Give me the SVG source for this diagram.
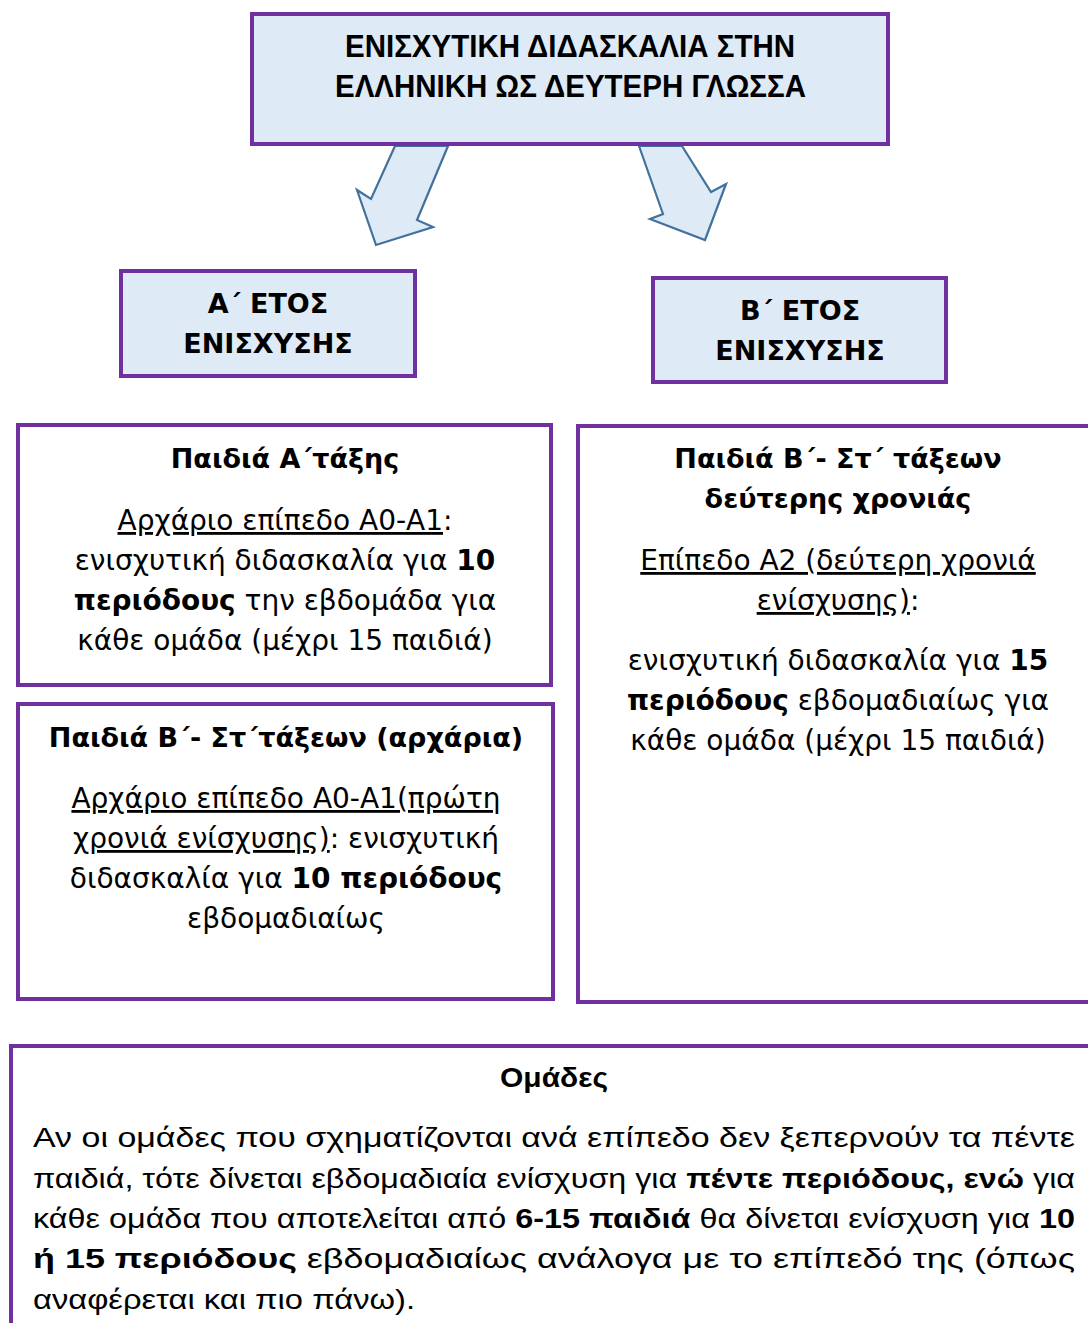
<svg xmlns="http://www.w3.org/2000/svg" width="1088" height="1323" viewBox="0 0 1088 1323">
<style>
.box{fill:#ffffff;stroke:#7030A0;stroke-width:4}
.bl{fill:#DEEAF6;stroke:#7030A0;stroke-width:4}
.arr{fill:#DEEAF6;stroke:#41719C;stroke-width:2.2;stroke-linejoin:miter}
.t{font-family:"DejaVu Sans",sans-serif;font-size:28px;fill:#000;text-anchor:middle}
.h{font-size:27px}
.y{font-size:27px}
.b{font-weight:bold}
.u{text-decoration:underline;text-decoration-skip-ink:none}
.ti{font-family:"Liberation Sans",Arial,sans-serif;font-weight:bold;font-size:31px;fill:#000}
.n{font-family:"Liberation Sans",Arial,sans-serif;font-size:28px;fill:#000}
</style>
<rect width="1088" height="1323" fill="#ffffff"/>
<g id="connectors">
<polygon class="arr" points="395,146 371,199 357,190 376,245 433,227 417,220 448,146"/>
<polygon class="arr" points="639,146 663,214 650,219 705,240 726,184 711,192 682,146"/>
</g>
<g id="title">
<rect class="bl" x="252" y="14" width="636" height="130"/>
<text class="ti" x="345" y="57" textLength="450" lengthAdjust="spacingAndGlyphs">ΕΝΙΣΧΥΤΙΚΗ ΔΙΔΑΣΚΑΛΙΑ ΣΤΗΝ</text>
<text class="ti" x="335" y="97" textLength="471" lengthAdjust="spacingAndGlyphs">ΕΛΛΗΝΙΚΗ ΩΣ ΔΕΥΤΕΡΗ ΓΛΩΣΣΑ</text>
</g>
<g id="year-a">
<rect class="bl" x="121" y="271" width="294" height="105"/>
<text class="t b y" x="268" y="313">Α΄ ΕΤΟΣ</text>
<text class="t b y" x="268" y="353">ΕΝΙΣΧΥΣΗΣ</text>
</g>
<g id="year-b">
<rect class="bl" x="653" y="278" width="293" height="104"/>
<text class="t b y" x="800" y="320">Β΄ ΕΤΟΣ</text>
<text class="t b y" x="800" y="360">ΕΝΙΣΧΥΣΗΣ</text>
</g>
<g id="class-a">
<rect class="box" x="18" y="425" width="533" height="260"/>
<text class="t b h" x="285" y="468">Παιδιά Α΄τάξης</text>
<text class="t" x="285" y="530"><tspan class="u">Αρχάριο επίπεδο Α0-Α1</tspan>:</text>
<text class="t" x="285" y="570">ενισχυτική διδασκαλία για <tspan class="b">10</tspan></text>
<text class="t" x="285" y="610"><tspan class="b">περιόδους</tspan> την εβδομάδα για</text>
<text class="t" x="285" y="650">κάθε ομάδα (μέχρι 15 παιδιά)</text>
</g>
<g id="class-b-beginners">
<rect class="box" x="18" y="704" width="535" height="295"/>
<text class="t b h" x="286" y="747">Παιδιά Β΄- Στ΄τάξεων (αρχάρια)</text>
<text class="t" x="286" y="808"><tspan class="u">Αρχάριο επίπεδο Α0-Α1(πρώτη</tspan></text>
<text class="t" x="286" y="848"><tspan class="u">χρονιά ενίσχυσης)</tspan>: ενισχυτική</text>
<text class="t" x="286" y="888">διδασκαλία για <tspan class="b">10 περιόδους</tspan></text>
<text class="t" x="286" y="928">εβδομαδιαίως</text>
</g>
<g id="class-b-second">
<rect class="box" x="578" y="426" width="540" height="576"/>
<text class="t b h" x="838" y="468">Παιδιά Β΄- Στ΄ τάξεων</text>
<text class="t b h" x="838" y="508">δεύτερης χρονιάς</text>
<text class="t" x="838" y="570"><tspan class="u">Επίπεδο Α2 (δεύτερη χρονιά</tspan></text>
<text class="t" x="838" y="610"><tspan class="u">ενίσχυσης)</tspan>:</text>
<text class="t" x="838" y="670">ενισχυτική διδασκαλία για <tspan class="b">15</tspan></text>
<text class="t" x="838" y="710"><tspan class="b">περιόδους</tspan> εβδομαδιαίως για</text>
<text class="t" x="838" y="750">κάθε ομάδα (μέχρι 15 παιδιά)</text>
</g>
<g id="groups">
<rect class="box" x="11" y="1046" width="1100" height="300"/>
<text class="n b" x="500" y="1087" textLength="108" lengthAdjust="spacingAndGlyphs">Ομάδες</text>
<text class="n" x="33" y="1147" textLength="1042" lengthAdjust="spacingAndGlyphs">Αν οι ομάδες που σχηματίζονται ανά επίπεδο δεν ξεπερνούν τα πέντε</text>
<text class="n" x="33" y="1188" textLength="1042" lengthAdjust="spacingAndGlyphs">παιδιά, τότε δίνεται εβδομαδιαία ενίσχυση για <tspan class="b">πέντε περιόδους, ενώ</tspan> για</text>
<text class="n" x="33" y="1228" textLength="1042" lengthAdjust="spacingAndGlyphs">κάθε ομάδα που αποτελείται από <tspan class="b">6-15 παιδιά</tspan> θα δίνεται ενίσχυση για <tspan class="b">10</tspan></text>
<text class="n" x="33" y="1268" textLength="1042" lengthAdjust="spacingAndGlyphs"><tspan class="b">ή 15 περιόδους</tspan> εβδομαδιαίως ανάλογα με το επίπεδό της (όπως</text>
<text class="n" x="33" y="1309" textLength="382" lengthAdjust="spacingAndGlyphs">αναφέρεται και πιο πάνω).</text>
</g>
</svg>
